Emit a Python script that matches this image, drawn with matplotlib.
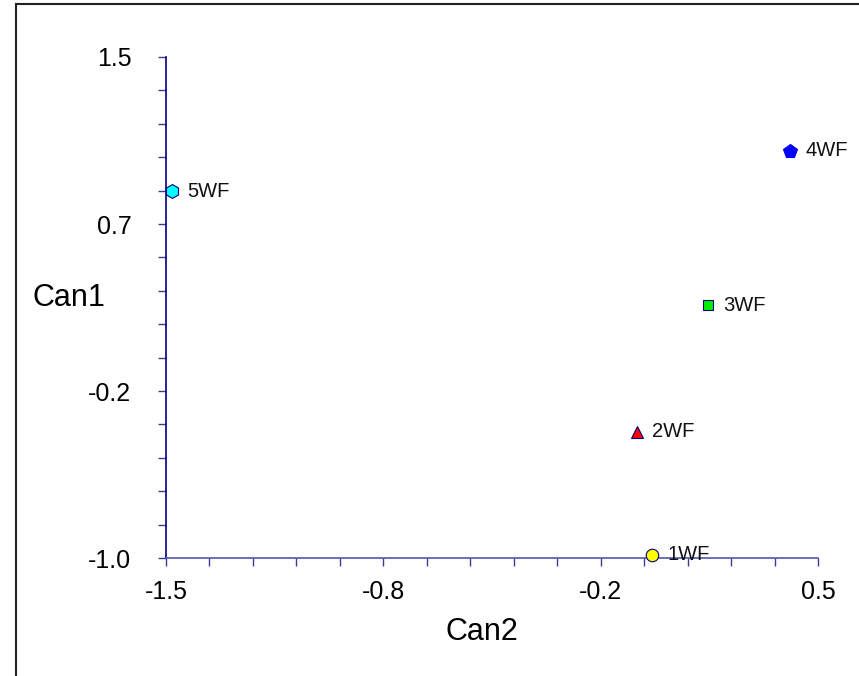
import numpy as np
import matplotlib
matplotlib.use("Agg")
import matplotlib.pyplot as plt
from matplotlib.lines import Line2D

plt.rcParams['font.family'] = ['Liberation Sans', 'DejaVu Sans']

labels = ["1WF", "2WF", "3WF", "4WF", "5WF"]
can2 = [-0.009, -0.055, 0.163, 0.414, -1.482]
can1 = [-0.985, -0.371, 0.262, 1.031, 0.831]
markers = ["o", "^", "s", "p", "h"]
colors = ["#ffff00", "#ff0000", "#00ee00", "#0000ff", "#00ffff"]
edges = ["#000080", "#000080", "#000080", "#0000ff", "#000080"]
msizes = [9, 8.5, 7.5, 10.5, 10]

xlim = (-1.5, 0.5)
ylim = (-1.0, 1.5)

W, H = 859, 676
fig = plt.figure(figsize=(W / 100, H / 100), dpi=100)
# outer frame (left and top edges visible)
fig.add_artist(Line2D([16 / W, 16 / W], [-0.05, 1 - 4 / H], transform=fig.transFigure,
                      color="#222222", linewidth=1.5))
fig.add_artist(Line2D([16 / W, 1.05], [1 - 4 / H, 1 - 4 / H], transform=fig.transFigure,
                      color="#222222", linewidth=1.5))
ax = fig.add_axes([166 / W, 1 - 558 / H, (818 - 166) / W, (558 - 57) / H])

for x, y, lab, m, c, e, s in zip(can2, can1, labels, markers, colors, edges, msizes):
    ax.plot([x], [y], marker=m, color=c, markeredgecolor=e, markersize=s,
            markeredgewidth=0.8, linestyle="none", clip_on=False, zorder=5)
    ax.annotate(lab, (x, y), xytext=(11, 0), textcoords="offset points",
                va="center", ha="left", fontsize=14.5, color="#111111", zorder=6)

ax.set_xlim(*xlim)
ax.set_ylim(*ylim)

xt = np.linspace(xlim[0], xlim[1], 16)
yt = np.linspace(ylim[0], ylim[1], 16)
ax.set_xticks(xt)
ax.set_xticklabels([f"{v:.1f}" if i % 5 == 0 else "" for i, v in enumerate(xt)])
ax.set_yticks(yt)
ax.set_yticklabels([f"{v:.1f}" if i % 5 == 0 else "" for i, v in enumerate(yt)])

for side in ("top", "right"):
    ax.spines[side].set_visible(False)
ax.spines["left"].set_color("#000080")
ax.spines["bottom"].set_color("#5555aa")
ax.spines["left"].set_linewidth(1.2)
ax.spines["bottom"].set_linewidth(1.2)
ax.tick_params(axis="x", direction="out", length=6, width=1, color="#3a3a99",
               labelsize=18, pad=10)
ax.tick_params(axis="y", direction="out", length=6, width=1, color="#3a3a99",
               labelsize=18, pad=19)

fig.text(482 / W, 1 - 632 / H, "Can2", fontsize=22, ha="center", va="center")
fig.text(33 / W, 1 - 298 / H, "Can1", fontsize=22, ha="left", va="center")

fig.savefig("out.png", dpi=100)
